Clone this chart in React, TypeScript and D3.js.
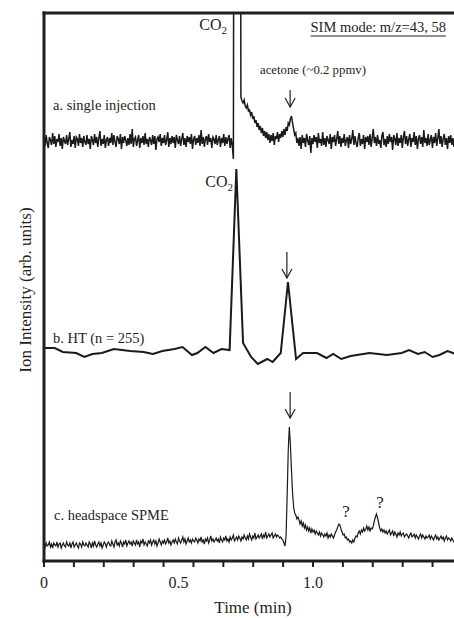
import { useEffect, useRef } from "react";
import * as d3 from "d3";

// sampling interval of the dense traces (min)
const sampleStep = 0.004;

// a. single injection, relative to its baseline
const traceA: number[] = [
  3, -5, 6, -2, -7, 4, 1, -4, 8, -3, 5, -6, 2, -1, 7, -5, 3, -8, 4, 0,
  -3, 6, -4, 2, 9, -6, 1, -3, 5, -7, 4, 2, -5, 7, -2, 3, -6, 5, -1, -4,
  6, -3, 2, -8, 5, 1, -4, 7, -2, 4, -6, 3, 10, -5, 2, -3, 6, -7, 1, 4,
  -5, 3, -2, 8, -4, 6, -1, -6, 5, 2, -3, 7, -8, 4, -2, 5, 1, -5, 3, -4,
  7, -3, 12, -6, 2, 4, -5, 1, 6, -7, 3, -2, 5, -4, 8, -3, 2, -6, 4, 1,
  -4, 6, -3, 5, -9, 2, 4, -1, 7, -5, 3, -2, 6, -4, 1, 9, -6, 3, -3, 5,
  -2, 4, -7, 6, 1, -3, 5, -5, 2, 8, -4, 3, -6, 5, -1, 4, -3, 7, -8, 2,
  5, -4, 3, -2, 6, -5, 11, -3, 4, -6, 2, 5, -4, 7, -1, 3, -7, 4, 2, -3,
  6, -4, 1, 5, -6, 3, -2, 7, -5, 4, -3, 2, 6, -7, 3, -5,
  -18, 700, 700, 700, 700, 700, 700,
  44, 40, 38, 41, 35, 33, 36, 30, 31, 26, 29, 22, 25, 18, 21, 14, 18, 11,
  15, 8, 13, 5, 10, 3, 9, 1, 7, -2, 6, 0, 8, -4, 5, 2, 9, -1, 7, 3, 10, 4,
  12, 6, 14, 10, 18, 16, 22, 25, 18, 12, 6, 8, -2, 3,
  -5, 4, -8, 6, -2, 3, -6, 7, 1, -4, 5, -12, 3, -3, 6, -1, 4, -7, 8, -2,
  2, -5, 9, -4, 3, -6, 5, 1, -3, 7, -8, 4, -1, 6, -5, 2, 10, -3, 5, -6,
  3, -2, 7, -5, 1, 4, -7, 6, -3, 2, 11, -4, 5, -2, -6, 3, 8, -5, 2, -3,
  6, -8, 4, -1, 5, -4, 7, -6, 3, 12, -2, 4, -5, 6, -3, 1, -7, 5, 9, -4,
  2, -6, 5, -3, 7, -1, 4, -9, 6, 2, -4, 8, -5, 3, -2, 6, -7, 4, 10, -3,
  5, -5, 2, 7, -6, 3, -1, 9, -4, 5, -8, 2, 6, -3, 4, -6, 11, -2, 3, -5,
  7, -4, 1, 6, -7, 4, -2, 8, -5, 3, 12, -3, 5, -6, 2, 7, -4, 3, -8, 5,
  -2, 6, -4, 3, -6, 4,
];

// b. HT (n = 255)
const timesB = [
  0, 0.04, 0.07, 0.12, 0.15, 0.18, 0.215, 0.26, 0.32, 0.37, 0.405, 0.44,
  0.485, 0.515, 0.55, 0.57, 0.6, 0.63, 0.66, 0.69, 0.715, 0.74, 0.77, 0.795,
  0.83, 0.85, 0.88, 0.907, 0.937, 0.963, 1.015, 1.05, 1.075, 1.105, 1.14,
  1.21, 1.275, 1.33, 1.357, 1.39, 1.415, 1.445, 1.47, 1.5, 1.53,
];
const traceB = [
  4, 4, 0, -1, -5, -2, -1, 3, 1, 0, -2, 1, 3, 5, -3, -1, 5, -1, 3, 2, 183, 9,
  -5, -12, -7, -10, -1, 70, -7, -1, -1, -6, -2, -7, -4, -1, -3, -1, 2, -2, 0,
  -5, -3, 1, -2,
];

// c. headspace SPME
const traceC: number[] = [
  1, -2, 2, -1, 0, 3, -2, 1, -3, 2, 0, -1, 3, -2, 1, 2, -3, 0, 2, -1,
  -2, 3, 0, -1, 2, -3, 1, 3, -2, 0, 2, -1, -3, 2, 1, -2, 3, 0, -1, 2,
  0, -2, 3, 1, -3, 2, -1, 4, 0, -2, 1, 3, -1, 2, -3, 0, 3, 1, -2, 2,
  3, 0, -1, 4, 1, -2, 3, 5, 0, 2, -1, 4, 2, -2, 3, 1, 5, -1, 2, 4,
  1, 3, -1, 4, 2, 0, 5, 1, 3, -2, 4, 2, 6, 0, 3, 1, -1, 4, 2, 5,
  0, 3, 5, 1, 4, -1, 2, 6, 3, 0, 4, 2, 5, 1, 3, 7, 2, 4, 0, 3,
  5, 2, 6, 3, 1, 7, 4, 2, 5, 8, 3, 6, 1, 4, 7, 3, 5, 2, 6, 4,
  3, 7, 5, 2, 6, 4, 8, 3, 5, 1, 6, 4, 7, 2, 5, 9, 4, 6, 3, 5,
  7, 4, 6, 2, 8, 5, 3, 7, 5, 9, 4, 6, 3, 8, 5, 7, 10, 4, 6, 8,
  5, 9, 7, 4, 8, 6, 10, 7, 5, 9, 6, 11, 8, 5, 9, 7, 12, 6, 8, 10,
  7, 9, 11, 6, 10, 8, 13, 7, 9, 11, 8, 10, 12, 7, 9, 11, 8, 10, 9, 7,
  8, 6,
  5, 2, -1, 10, 50, 95, 118, 100, 75, 52, 38, 32, 30, 26, 28,
  25, 21, 24, 19, 22, 17, 20, 15, 18, 14, 17, 12, 16, 13, 15, 11, 14, 12, 10, 13,
  9, 12, 10, 8, 11, 9, 12, 7, 10, 8, 11, 9, 7, 10, 13, 15, 18, 21, 20, 16,
  13, 10, 11, 7, 8, 5, 6, 3, 4, 2, 5, 3, 7, 9, 8, 12, 14, 11, 15, 13,
  17, 14, 16, 19, 15, 18, 14, 17, 16, 19, 24, 28, 31, 27, 22, 17, 14, 16, 13, 15,
  12, 14, 11, 13, 15, 10, 12, 14, 9, 13, 11, 8, 12, 10, 13, 9, 11, 12, 8, 10,
  11, 9, 7, 10, 12, 8, 9, 11, 7, 10, 8, 6, 9, 11, 7, 10, 8, 6, 9, 7,
  8, 10, 6, 9, 7, 5, 8, 10, 6, 8, 5, 7, 9, 6, 8, 4, 7, 9, 5, 7,
  6, 4, 7, 5, 3, 6,
];

// baselines of the stacked traces (arb. units)
const offsets = { a: 420, b: 209, c: 16 };

const minorTicks = d3.range(0, 14).map((k) => k / 9);
const tickLabels = [
  { t: 0, label: "0" },
  { t: 0.5, label: "0.5" },
  { t: 1.0, label: "1.0" },
];

const W = 454;
const H = 618;
const left = 44;
const top = 13;
const bottom = 561;

export default function App() {
  const svgRef = useRef<SVGSVGElement>(null);

  useEffect(() => {
    if (!svgRef.current) return;
    const svg = d3.select(svgRef.current);
    svg.selectAll("*").remove();

    const x = d3.scaleLinear().domain([0, 1]).range([left, 313]);
    const y = d3.scaleLinear().domain([0, bottom - top]).range([bottom, top]);
    const serif = "'Liberation Serif', 'Times New Roman', serif";
    const ink = "#231f20";

    svg
      .append("defs")
      .append("clipPath")
      .attr("id", "plot")
      .append("rect")
      .attr("x", left)
      .attr("y", top)
      .attr("width", W - left)
      .attr("height", bottom - top);

    const plot = svg.append("g").attr("clip-path", "url(#plot)");
    const line = d3
      .line<[number, number]>()
      .x((d) => x(d[0]))
      .y((d) => y(d[1]));

    const dense = (vals: number[], off: number): [number, number][] =>
      vals.map((v, i) => [i * sampleStep, v + off]);

    plot
      .append("path")
      .attr("d", line(dense(traceA, offsets.a)))
      .attr("fill", "none")
      .attr("stroke", "#1a1a1a")
      .attr("stroke-width", 1.5);

    plot
      .append("path")
      .attr("d", line(timesB.map((t, i) => [t, traceB[i] + offsets.b])))
      .attr("fill", "none")
      .attr("stroke", "#1a1a1a")
      .attr("stroke-width", 2)
      .attr("stroke-linejoin", "miter");

    plot
      .append("path")
      .attr("d", line(dense(traceC, offsets.c)))
      .attr("fill", "none")
      .attr("stroke", "#1a1a1a")
      .attr("stroke-width", 1.2);

    // frame
    const frame = svg.append("g").attr("stroke", ink).attr("stroke-width", 3);
    frame.append("line").attr("x1", left).attr("x2", left).attr("y1", top - 1.5).attr("y2", bottom + 1.5);
    frame.append("line").attr("x1", left - 1.5).attr("x2", W).attr("y1", top).attr("y2", top);
    frame.append("line").attr("x1", left - 1.5).attr("x2", W).attr("y1", bottom).attr("y2", bottom);

    svg
      .append("g")
      .selectAll("line")
      .data(minorTicks)
      .enter()
      .append("line")
      .attr("x1", (d) => x(d))
      .attr("x2", (d) => x(d))
      .attr("y1", bottom)
      .attr("y2", bottom + 6)
      .attr("stroke", ink)
      .attr("stroke-width", 2);

    svg
      .append("g")
      .selectAll("text")
      .data(tickLabels)
      .enter()
      .append("text")
      .attr("x", (d) => x(d.t))
      .attr("y", 588)
      .attr("text-anchor", "middle")
      .attr("font-family", serif)
      .attr("font-size", 16)
      .attr("fill", ink)
      .text((d) => d.label);

    svg
      .append("text")
      .attr("x", 253)
      .attr("y", 613)
      .attr("text-anchor", "middle")
      .attr("font-family", serif)
      .attr("font-size", 17)
      .attr("fill", ink)
      .text("Time (min)");

    svg
      .append("text")
      .attr("transform", `translate(31, 290) rotate(-90)`)
      .attr("text-anchor", "middle")
      .attr("font-family", serif)
      .attr("font-size", 17)
      .attr("fill", ink)
      .text("Ion Intensity (arb. units)");

    const label = (tx: number, ty: number, size: number, text: string, anchor = "start") =>
      svg
        .append("text")
        .attr("x", tx)
        .attr("y", ty)
        .attr("text-anchor", anchor)
        .attr("font-family", serif)
        .attr("font-size", size)
        .attr("fill", ink)
        .text(text);

    label(53, 110, 14.5, "a. single injection");
    label(53, 343, 14.5, "b. HT (n = 255)");
    label(54, 520, 14.5, "c. headspace SPME");
    label(313, 74, 12.8, "acetone (~0.2 ppmv)", "middle");
    label(346, 517, 17, "?", "middle");
    label(380, 508, 17, "?", "middle");

    const sim = label(446, 32, 14.5, "SIM mode: m/z=43, 58", "end");
    const bb = (sim.node() as SVGTextElement).getBBox();
    svg
      .append("line")
      .attr("x1", bb.x)
      .attr("x2", bb.x + bb.width)
      .attr("y1", 36)
      .attr("y2", 36)
      .attr("stroke", ink)
      .attr("stroke-width", 1);

    const co2 = (tx: number, ty: number) => {
      const t = label(tx, ty, 16, "CO", "end");
      t.append("tspan").attr("font-size", 11).attr("dy", 4).text("2");
    };
    co2(227, 30);
    co2(233, 187);

    // arrows pointing at the acetone peaks
    const arrow = (t: number, y0: number, y1: number) => {
      const ax = x(t);
      const g = svg.append("g").attr("stroke", ink).attr("stroke-width", 1.2).attr("fill", "none");
      g.append("line").attr("x1", ax).attr("x2", ax).attr("y1", y0).attr("y2", y1);
      g.append("path").attr("d", `M${ax - 5},${y1 - 9}L${ax},${y1}L${ax + 5},${y1 - 9}`);
    };
    arrow(0.915, 90, 107);
    arrow(0.903, 252, 278);
    arrow(0.915, 392, 418);
  }, []);

  return (
    <svg
      ref={svgRef}
      width={W}
      height={H}
      style={{ position: "absolute", left: 0, top: 0, background: "#fff" }}
    />
  );
}
